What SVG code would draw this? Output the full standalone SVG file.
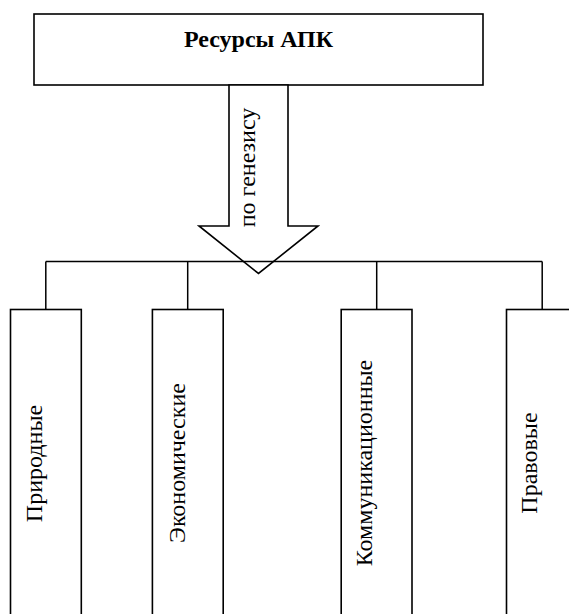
<svg xmlns="http://www.w3.org/2000/svg" width="569" height="614" viewBox="0 0 569 614">
  <style>
    .box { fill: #ffffff; stroke: #000000; stroke-width: 1.6; }
    .wire { fill: none; stroke: #000000; stroke-width: 1.5; }
    .title { font-family: "Liberation Serif", "Times New Roman", serif; font-size: 24px; font-weight: bold; fill: #000000; text-anchor: middle; }
    .label { font-family: "Liberation Serif", "Times New Roman", serif; font-size: 24px; fill: #000000; text-anchor: middle; }
  </style>
  <rect width="569" height="614" fill="#ffffff"/>

  <!-- root node -->
  <g id="node-resources">
    <rect class="box" x="34" y="14" width="449" height="71"/>
    <text class="title" x="258.5" y="47">Ресурсы АПК</text>
  </g>

  <!-- connectors: block arrow and distribution bus -->
  <g id="connectors">
    <g id="arrow-genesis">
      <polygon class="box" points="229,85 229,226 199,226 258.5,273.5 318,226 288,226 288,85"/>
      <text class="label" transform="translate(255,167.5) rotate(-90)" x="0" y="0">по генезису</text>
    </g>
    <path class="wire" d="M45.8,261.5 H542.2 M45.8,261.5 V309.5 M187.7,261.5 V309.5 M376.7,261.5 V309.5 M542.2,261.5 V309.5"/>
  </g>

  <!-- leaf nodes -->
  <g id="node-natural">
    <rect class="box" x="10.5" y="309.5" width="70.8" height="320"/>
    <text class="label" transform="translate(41.5,463.5) rotate(-90)">Природные</text>
  </g>
  <g id="node-economic">
    <rect class="box" x="152.4" y="309.5" width="70.8" height="320"/>
    <text class="label" transform="translate(184.5,463) rotate(-90)">Экономические</text>
  </g>
  <g id="node-communication">
    <rect class="box" x="341.2" y="309.5" width="70.8" height="320"/>
    <text class="label" transform="translate(372,463) rotate(-90)">Коммуникационные</text>
  </g>
  <g id="node-legal">
    <rect class="box" x="506.5" y="309.5" width="70.8" height="320"/>
    <text class="label" transform="translate(537,463) rotate(-90)">Правовые</text>
  </g>
</svg>
